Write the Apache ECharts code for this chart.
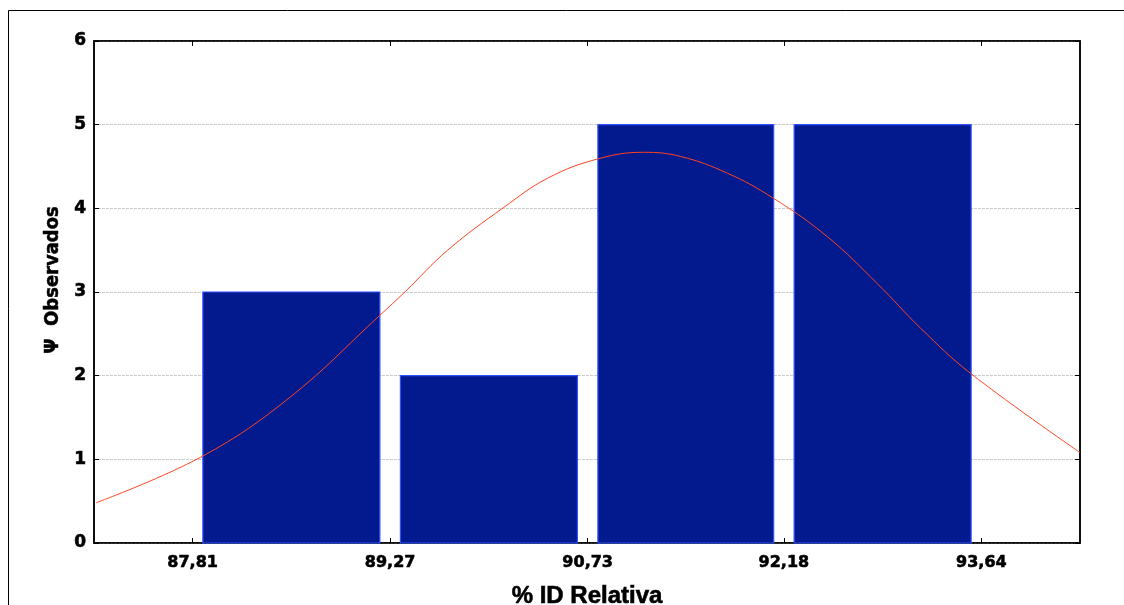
<!DOCTYPE html>
<html>
<head>
<meta charset="utf-8">
<script src="https://cdn.jsdelivr.net/npm/echarts@6/dist/echarts.min.js"></script>
<style>
  html, body { margin: 0; padding: 0; background: #fff; }
  #chart { width: 1124px; height: 605px; }
</style>
</head>
<body>
<div id="chart"></div>
<script>
// Histogram bin edges (also the x tick positions) and observed counts per bin
const binEdges = [87.81, 89.27, 90.73, 92.18, 93.64];
const counts = [3, 2, 5, 5];

// Fitted normal curve, sampled along the x axis
const curveX = [87.096, 87.886, 88.536, 89.193, 89.385, 89.695, 90.109, 90.434, 90.803,
                91.143, 91.416, 91.763, 92.103, 92.502, 92.871, 93.189, 93.558, 94.370];
const curveY = [0.48, 1.04, 1.75, 2.72, 3.01, 3.50, 4.01, 4.36, 4.59,
                4.67, 4.62, 4.42, 4.12, 3.66, 3.10, 2.57, 2.03, 1.08];

const bins = counts.map((c, i) => [binEdges[i], binEdges[i + 1], c]);
const curve = curveX.map((x, i) => [x, curveY[i]]);

const halfBin = (binEdges[binEdges.length - 1] - binEdges[0]) / (binEdges.length - 1) / 2;
const xMin = binEdges[0] - halfBin;
const xMax = binEdges[binEdges.length - 1] + halfBin;

// heavy black tick text
const tickFont = {
  fontFamily: 'DejaVu Sans', fontWeight: 'bold', fontSize: 16, color: '#000',
  textBorderColor: '#000', textBorderWidth: 0.6
};
const fmt = v => Number(v).toFixed(2).replace('.', ',');

const chart = echarts.init(document.getElementById('chart'), null, { renderer: 'canvas' });

chart.setOption({
  animation: false,
  backgroundColor: '#fff',
  graphic: [{
    type: 'rect',
    shape: { x: 8.5, y: 10.5, width: 1300, height: 800 },
    style: { fill: null, stroke: '#000', lineWidth: 1 },
    silent: true, z: -10
  }],
  grid: {
    left: 94, right: 44, top: 41, bottom: 62,
    outerBoundsMode: 'none', containLabel: false,
    show: true, borderColor: '#000', borderWidth: 1.5, backgroundColor: '#fff'
  },
  xAxis: [{
    type: 'value', min: xMin, max: xMax,
    axisLine: { show: true, onZero: false, lineStyle: { color: '#000', width: 1.5 } },
    axisTick: { show: true, inside: true, length: 5, customValues: binEdges, lineStyle: { color: '#000' } },
    axisLabel: { customValues: binEdges, formatter: fmt, margin: 12, ...tickFont },
    splitLine: { show: false },
    name: '% ID Relativa', nameLocation: 'middle', nameGap: 41,
    nameTextStyle: {
      fontFamily: 'Liberation Sans', fontWeight: 'bold', fontSize: 24, color: '#000',
      textBorderColor: '#000', textBorderWidth: 0.6
    }
  }, {
    type: 'value', min: xMin, max: xMax, position: 'top',
    axisLine: { show: true, onZero: false, lineStyle: { color: '#000', width: 1.5 } },
    axisTick: { show: true, inside: true, length: 5, customValues: binEdges, lineStyle: { color: '#000' } },
    axisLabel: { show: false },
    splitLine: { show: false }
  }],
  yAxis: [{
    type: 'value', min: 0, max: 6, interval: 1,
    axisLine: { show: true, onZero: false, lineStyle: { color: '#000', width: 1.5 } },
    axisTick: { show: true, inside: true, length: 5, lineStyle: { color: '#000' } },
    axisLabel: { margin: 8, ...tickFont, fontSize: 17 },
    splitLine: { show: true, lineStyle: { color: '#cccccc', type: [3, 1], width: 1 } },
    name: 'Ψ  Observados', nameLocation: 'middle', nameGap: 30, nameRotate: 90,
    nameTextStyle: {
      fontFamily: 'DejaVu Sans Condensed', fontWeight: 'bold', fontSize: 20, color: '#000',
      textBorderColor: '#000', textBorderWidth: 0.5,
      padding: [0, 0, 0, 24]
    }
  }, {
    type: 'value', min: 0, max: 6, interval: 1, position: 'right',
    axisLine: { show: true, onZero: false, lineStyle: { color: '#000', width: 1.5 } },
    axisTick: { show: true, inside: true, length: 5, lineStyle: { color: '#000' } },
    axisLabel: { show: false },
    splitLine: { show: false }
  }],
  series: [{
    type: 'custom',
    xAxisIndex: 0, yAxisIndex: 0,
    data: bins,
    encode: { x: [0, 1], y: 2 },
    renderItem: function (params, api) {
      const p0 = api.coord([api.value(0), api.value(2)]);
      const p1 = api.coord([api.value(1), 0]);
      const inset = (p1[0] - p0[0]) * 0.052;
      return {
        type: 'rect',
        shape: { x: p0[0] + inset, y: p0[1], width: p1[0] - p0[0] - 2 * inset, height: p1[1] - p0[1] },
        style: { fill: '#03198e', stroke: '#2e50ff', lineWidth: 1.2 }
      };
    },
    z: 2
  }, {
    type: 'line',
    xAxisIndex: 0, yAxisIndex: 0,
    data: curve,
    smooth: 0.4,
    showSymbol: false,
    lineStyle: { color: '#ff4422', width: 1 },
    z: 3
  }]
});
</script>
</body>
</html>
